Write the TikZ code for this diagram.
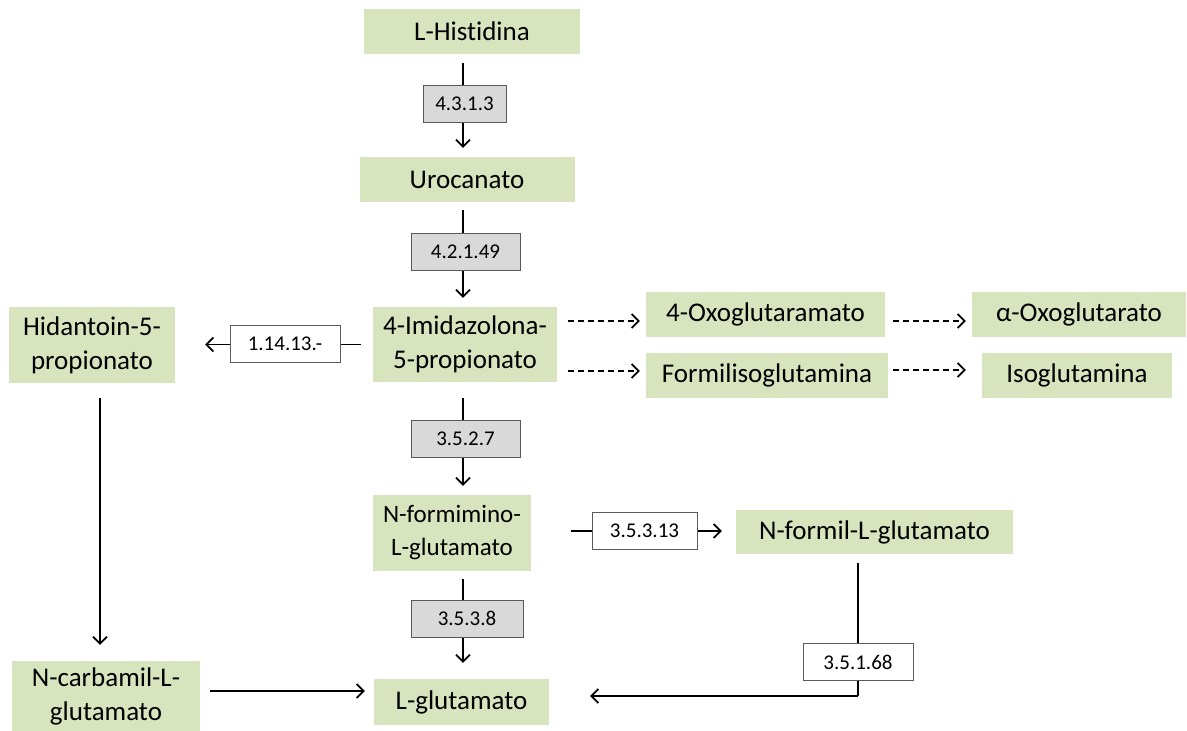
\documentclass[tikz,border=0pt]{standalone}
\usepackage{fontspec}
\setmainfont{Carlito}[Ligatures={NoCommon}]
\usetikzlibrary{arrows.meta,backgrounds}
\definecolor{boxgreen}{RGB}{215,228,189}
\definecolor{enzgray}{RGB}{217,217,217}
\definecolor{edgegray}{RGB}{90,90,90}
\tikzset{
  gbox/.style={fill=boxgreen, inner sep=0pt, align=center, font=\fontsize{27}{34}\selectfont},
  ebox/.style={draw=edgegray, line width=0.9pt, inner sep=0pt, minimum height=37pt, font=\fontsize{21}{24}\selectfont},
  egray/.style={ebox, fill=enzgray},
  ewhite/.style={ebox, fill=white},
  arr/.style={line width=1.8pt, -{Straight Barb[length=7pt,width=14pt,line width=1.7pt]}},
  plain/.style={line width=1.8pt},
  darr/.style={arr, dash pattern=on 6pt off 4pt}
}
\begin{document}
\begin{tikzpicture}[x=1pt,y=-1pt]
\useasboundingbox (0,0) rectangle (1187,731);
% metabolites
\node[gbox, minimum width=216pt, minimum height=45pt] (his) at (472,31.5) {L-Histidina};
\node[gbox, minimum width=215pt, minimum height=45pt] (uro) at (467,179.5) {Urocanato};
\node[gbox, minimum width=184pt, minimum height=75pt] (imi) at (465,344.5) {4-Imidazolona-\\5-propionato};
\node[gbox, minimum width=166pt, minimum height=76pt] (hid) at (92,345) {Hidantoin-5-\\propionato};
\node[gbox, minimum width=239pt, minimum height=45pt] (oxa) at (765.5,314.5) {4-Oxoglutaramato};
\node[gbox, minimum width=214pt, minimum height=45pt] (akg) at (1079,314.5) {α-Oxoglutarato};
\node[gbox, minimum width=242pt, minimum height=45pt] (fig) at (767,375.5) {Formilisoglutamina};
\node[gbox, minimum width=190pt, minimum height=45pt] (iso) at (1077,375.5) {Isoglutamina};
\node[gbox, minimum width=158pt, minimum height=76pt, font=\fontsize{25}{33}\selectfont] (nfi) at (452,533) {N-formimino-\\L-glutamato};
\node[gbox, minimum width=277pt, minimum height=44pt] (nfo) at (874.5,532) {N-formil-L-glutamato};
\node[gbox, minimum width=175pt, minimum height=46pt] (glu) at (461.5,702) {L-glutamato};
\node[gbox, minimum width=188pt, minimum height=70pt] (nca) at (106,696) {N-carbamil-L-\\glutamato};
% enzymes
\node[egray, minimum width=83pt] (e1) at (464.5,103.5) {4.3.1.3};
\node[egray, minimum width=109pt] (e2) at (465.5,251.5) {4.2.1.49};
\node[ewhite, minimum width=110pt] (e3) at (285,344) {1.14.13.-};
\node[egray, minimum width=109pt] (e4) at (465.5,438.5) {3.5.2.7};
\node[ewhite, minimum width=105pt] (e5) at (644.5,531) {3.5.3.13};
\node[egray, minimum width=112pt] (e6) at (467,618.5) {3.5.3.8};
\node[ewhite, minimum width=110pt] (e7) at (858,662) {3.5.1.68};
\coordinate (c7) at (858,696);
\begin{scope}[on background layer]
\draw[arr, shorten <=9pt, shorten >=9pt] (his.south -| 463,0) -- (uro.north -| 463,0);
\draw[arr, shorten <=8pt, shorten >=9pt] (uro.south -| 463,0) -- (imi.north -| 463,0);
\draw[arr, shorten <=16pt, shorten >=9pt] (imi.south -| 463,0) -- (nfi.north -| 463,0);
\draw[arr, shorten <=8pt, shorten >=16pt] (nfi.south -| 463,0) -- (glu.north -| 463,0);
\draw[arr, shorten <=12pt, shorten >=30pt] (imi.west) -- (hid.east |- imi.west);
\draw[arr, shorten <=40pt, shorten >=14pt] (nfi.east |- e5) -- (nfo.west |- e5);
\draw[plain, shorten <=9pt] (nfo.south -| c7) -- (c7);
\draw[arr, shorten >=41pt] (c7) -- (glu.east |- c7);
\draw[arr, shorten <=15pt, shorten >=16pt] (hid.south -| 100,0) -- (nca.north -| 100,0);
\draw[arr, shorten <=10pt, shorten >=9pt] (nca.east |- 0,691) -- (glu.west |- 0,691);
\end{scope}
\draw[darr, shorten <=11pt, shorten >=6pt] (imi.east |- 0,321) -- (oxa.west |- 0,321);
\draw[darr, shorten <=11pt, shorten >=6pt] (imi.east |- 0,371) -- (fig.west |- 0,371);
\draw[darr, shorten <=8pt, shorten >=6pt] (oxa.east |- 0,321) -- (akg.west |- 0,321);
\draw[darr, shorten <=5pt, shorten >=16pt] (fig.east |- 0,370) -- (iso.west |- 0,370);
\end{tikzpicture}
\end{document}
